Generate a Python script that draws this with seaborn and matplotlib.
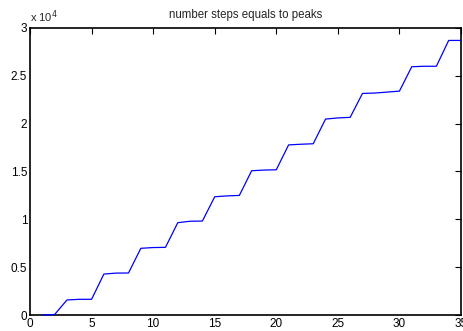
import matplotlib
matplotlib.use("Agg")
import matplotlib.pyplot as plt
import numpy as np
import pandas as pd
import seaborn as sns

# data
steps = list(range(1, 36))
peaks = [0, 50, 1570, 1640, 1640, 4280, 4380, 4390, 6970, 7050,
         7070, 9650, 9800, 9820, 12360, 12450, 12500, 15080, 15150, 15180,
         17780, 17850, 17900, 20480, 20600, 20660, 23160, 23200, 23300, 23400,
         25950, 26000, 26000, 28700, 28700]
title = "number steps equals to peaks"

sns.set_style("white")
plt.rcParams["font.family"] = ["Liberation Sans", "DejaVu Sans"]

df = pd.DataFrame({"step": steps, "peak": peaks})

fig = plt.figure(figsize=(4.63, 3.31), dpi=100)
ax = fig.add_axes([30 / 463, 16 / 331, 431 / 463, 287 / 331])
sns.lineplot(data=df, x="step", y="peak", color="#0000ff", linewidth=0.9,
             ax=ax, clip_on=False, zorder=5)

ax.set_xlim(0, 35)
ax.set_ylim(0, 30000)
ax.set_xticks(np.arange(0, 36, 5))
ax.set_yticks(np.arange(0, 30001, 5000))
ax.set_yticklabels(["0", "0.5", "1", "1.5", "2", "2.5", "3"])
ax.set_xlabel("")
ax.set_ylabel("")
ax.set_title(title, fontsize=8.3, pad=7)
ax.text(0, 1.01, r"x 10$^4$", transform=ax.transAxes, fontsize=8, va="bottom", ha="left")

for s in ax.spines.values():
    s.set_visible(True)
    s.set_color("black")
    s.set_linewidth(1.2)
ax.tick_params(direction="in", length=4, width=0.8, labelsize=8.5, colors="black",
               top=True, right=True, pad=2)

fig.savefig("out.png", dpi=100)
